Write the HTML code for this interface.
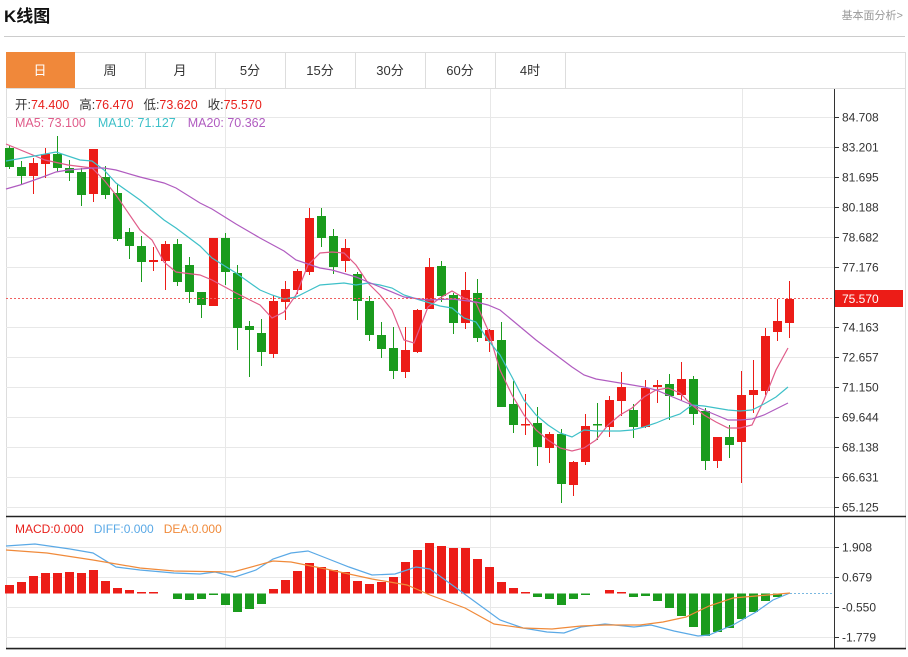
<!DOCTYPE html>
<html><head><meta charset="utf-8"><style>
body{margin:0;background:#fff;width:908px;height:652px;overflow:hidden;font-family:"Liberation Sans","Noto Sans CJK SC",sans-serif}
</style></head><body>
<svg id="s" width="908" height="652" xmlns="http://www.w3.org/2000/svg" font-family="Liberation Sans, Noto Sans CJK SC, sans-serif">
<text x="4" y="22" font-size="17" font-weight="bold" fill="#111">K线图</text>
<text x="903" y="19" font-size="11" fill="#999" text-anchor="end">基本面分析&gt;</text>
<line x1="4" y1="36.5" x2="905" y2="36.5" stroke="#ccc"/>
<rect x="6.5" y="52.5" width="899" height="597" fill="none" stroke="#ddd"/>
<line x1="6" y1="88.5" x2="906" y2="88.5" stroke="#ddd"/>
<rect x="6" y="52" width="69" height="36" fill="#f0883a"/>
<g font-size="13" fill="#333" text-anchor="middle">
<text x="40" y="75" fill="#fff">日</text><text x="110" y="75">周</text><text x="180" y="75">月</text><text x="250" y="75">5分</text><text x="320" y="75">15分</text><text x="390" y="75">30分</text><text x="460" y="75">60分</text><text x="530" y="75">4时</text>
</g>
<g stroke="#ddd"><line x1="145.5" y1="52" x2="145.5" y2="88"/><line x1="215.5" y1="52" x2="215.5" y2="88"/><line x1="285.5" y1="52" x2="285.5" y2="88"/><line x1="355.5" y1="52" x2="355.5" y2="88"/><line x1="425.5" y1="52" x2="425.5" y2="88"/><line x1="495.5" y1="52" x2="495.5" y2="88"/><line x1="565.5" y1="52" x2="565.5" y2="88"/></g>
<g id="g"></g>
<g font-size="12.5">
<text x="15" y="109"><tspan fill="#333">开:</tspan><tspan fill="#e8211c">74.400</tspan><tspan fill="#333" dx="10">高:</tspan><tspan fill="#e8211c">76.470</tspan><tspan fill="#333" dx="10">低:</tspan><tspan fill="#e8211c">73.620</tspan><tspan fill="#333" dx="10">收:</tspan><tspan fill="#e8211c">75.570</tspan></text>
<text x="15" y="127"><tspan fill="#e05c8a">MA5: 73.100</tspan><tspan fill="#3ec0c8" dx="12">MA10: 71.127</tspan><tspan fill="#b05cc0" dx="12">MA20: 70.362</tspan></text>
<text x="15" y="533" font-size="12"><tspan fill="#e8211c">MACD:0.000</tspan><tspan fill="#5aa9e6" dx="10">DIFF:0.000</tspan><tspan fill="#f08a3a" dx="10">DEA:0.000</tspan></text>
</g>
</svg>
<script>
var g=document.getElementById('g'),h='';
function L(x1,y1,x2,y2,c,w,d){h+='<line x1="'+x1+'" y1="'+y1+'" x2="'+x2+'" y2="'+y2+'" stroke="'+c+'" stroke-width="'+(w||1)+'"'+(d?' stroke-dasharray="'+d+'"':'')+'/>';}
var ly=[117,147,177,207,237,267,327,357,387,417,447,477,507],lv=['84.708','83.201','81.695','80.188','78.682','77.176','74.163','72.657','71.150','69.644','68.138','66.631','65.125'];
ly.forEach(function(y){L(6,y+.5,834,y+.5,'#e8e8e8');});
[225,490,742].forEach(function(x){L(x+.5,89,x+.5,649,'#e8e8e8');});
[547,577,607,637].forEach(function(y){L(6,y+.5,834,y+.5,'#e8e8e8');});
var C=[[148,167,146,169,0],[167,176,161,185,0],[163,176,158,194,1],[154,164,148,178,1],[154,168,136,172,0],[168,173,160,181,0],[172,195,168,206,0],[149,194,149,202,1],[177,195,166,199,0],[193,239,184,241,0],[232,246,228,259,0],[246,262,236,282,0],[260,262,247,271,1],[244,261,241,290,1],[244,282,239,286,0],[265,292,257,303,0],[292,305,292,318,0],[238,306,238,306,1],[238,272,233,285,0],[273,328,265,350,0],[326,330,321,377,0],[333,352,319,366,0],[301,354,296,358,1],[289,302,281,320,1],[271,290,269,294,1],[218,272,208,275,1],[216,238,208,247,0],[236,267,229,274,0],[248,261,239,272,1],[274,301,272,320,0],[301,335,296,341,0],[335,349,322,358,0],[348,371,327,379,0],[350,372,327,378,1],[310,352,309,353,1],[267,309,258,309,1],[266,296,261,302,0],[295,323,293,334,0],[290,323,272,329,1],[293,338,279,342,0],[330,341,329,352,1],[340,407,322,407,0],[404,425,381,433,0],[424,425,394,435,1],[423,447,407,466,0],[434,448,432,463,1],[434,484,429,503,0],[462,485,461,496,1],[426,462,414,465,1],[424,425,403,440,0],[400,427,396,437,1],[387,401,372,416,1],[410,427,404,438,0],[388,427,380,428,1],[385,387,380,403,1],[384,396,374,420,0],[379,395,362,400,1],[379,414,376,425,0],[411,461,408,470,0],[437,461,437,468,1],[437,445,425,458,0],[395,442,371,483,1],[390,395,360,413,1],[336,391,328,395,1],[321,332,299,341,1],[299,323,281,338,1]];
var R='#ec1c17',G='#1a9b1d';
C.forEach(function(c,i){var x=9+12*i,col=c[4]?R:G;L(x+.5,c[2],x+.5,c[3],col);h+='<rect x="'+(x-4)+'" y="'+c[0]+'" width="9" height="'+Math.max(c[1]-c[0],1.5)+'" fill="'+col+'"/>';});
function P(a,c){h+='<polyline fill="none" stroke="'+c+'" stroke-width="1.2" points="'+a.join(' ')+'"/>';}
P([[6,144],[45,160],[68,165],[92,168],[104,180],[116,195],[140,230],[152,240],[164,262],[176,272],[200,275],[212,280],[236,293],[260,305],[272,318],[284,312],[296,295],[308,265],[320,253],[332,252],[344,253],[356,265],[368,283],[380,295],[392,310],[404,340],[414,343],[428,307],[440,298],[452,291],[464,298],[476,303],[488,330],[500,370],[512,395],[524,415],[536,430],[548,440],[560,448],[572,451],[584,448],[596,440],[608,425],[620,415],[632,408],[644,397],[656,390],[668,388],[680,393],[692,405],[704,415],[716,422],[728,428],[740,428],[752,425],[764,400],[776,370],[788,348]],'#e05c8a');
P([[6,161],[40,155],[56,152],[80,160],[92,161],[104,170],[116,183],[140,200],[164,220],[176,228],[200,246],[212,258],[236,273],[260,290],[272,295],[284,299],[296,297],[308,291],[320,285],[332,284],[344,283],[356,285],[368,283],[380,285],[392,288],[404,295],[420,300],[440,306],[452,308],[464,318],[476,322],[488,340],[500,355],[512,377],[524,400],[536,415],[548,425],[560,433],[572,437],[584,430],[596,431],[620,431],[632,430],[644,427],[656,423],[668,418],[680,414],[692,405],[704,406],[716,408],[728,410],[740,411],[752,410],[764,404],[776,397],[788,387]],'#3ec0c8');
P([[6,189],[20,185],[40,178],[56,172],[68,170],[92,168],[104,168],[116,170],[140,177],[164,183],[176,188],[200,203],[212,209],[236,224],[260,238],[284,251],[296,260],[308,264],[320,268],[332,270],[356,277],[380,287],[404,297],[428,300],[452,299],[476,302],[488,305],[500,310],[512,320],[524,330],[536,340],[548,349],[560,358],[572,367],[584,375],[596,379],[620,383],[644,387],[656,390],[668,395],[680,400],[692,405],[704,410],[716,415],[728,420],[740,420],[752,419],[764,415],[776,409],[788,403]],'#b05cc0');
L(6,298.5,834,298.5,'#f06060',1,'2,2');
// axis
L(834.5,89,834.5,516,'#333');L(834.5,517,834.5,649,'#333');
ly.forEach(function(y,i){L(834,y+.5,839,y+.5,'#333');h+='<text x="842" y="'+(y+4.5)+'" font-size="12" fill="#333">'+lv[i]+'</text>';});
h+='<rect x="835" y="290" width="68" height="17" fill="#ec1c17"/><text x="842" y="303" font-size="12" fill="#fff">75.570</text>';
L(6,516.5,906,516.5,'#222',1.5);L(6,648.5,906,648.5,'#222',1.5);
// macd
var M=[585,582,576,573,573,572,573,570,581,588,590,592,592,593,599,600,599,595,605,612,609,604,589,580,571,563,567,570,572,581,584,582,577,562,550,543,546,548,548,559,567,582,588,592,597,599,605,599,595,593,590,592,597,596,601,608,616,627,636,632,628,619,612,601,597,594];
var Z=593.5;
M.forEach(function(v,i){var x=9+12*i;if(Math.abs(v-Z)<1)return;var up=v<Z;h+='<rect x="'+(x-4)+'" y="'+Math.min(v,Z)+'" width="9" height="'+Math.abs(v-Z)+'" fill="'+(up?R:G)+'"/>';});
L(790,Z,834,Z,'#7ab8e0',1,'2,2');
P([[6,546],[35,544],[70,549],[93,553],[116,567],[140,570],[174,573],[200,574],[215,572],[235,577],[256,570],[273,559],[291,553],[308,551],[326,558],[349,567],[372,575],[395,574],[416,567],[430,569],[459,590],[474,601],[500,620],[523,628],[547,632],[564,633],[581,627],[605,624],[634,627],[651,625],[674,631],[698,636],[709,635],[733,625],[756,612],[773,600],[790,593]],'#5aa9e6');
P([[6,550],[47,553],[93,560],[140,568],[174,571],[233,572],[273,561],[291,562],[326,569],[372,579],[407,585],[430,595],[465,608],[494,624],[523,628],[552,629],[581,626],[605,625],[640,625],[663,622],[686,617],[709,606],[733,598],[756,596],[790,593]],'#f08a3a');
[[547,'1.908'],[577,'0.679'],[607,'-0.550'],[637,'-1.779']].forEach(function(a){L(834,a[0]+.5,839,a[0]+.5,'#333');h+='<text x="842" y="'+(a[0]+4.5)+'" font-size="12" fill="#333">'+a[1]+'</text>';});
g.innerHTML=h;
</script>
</body></html>
